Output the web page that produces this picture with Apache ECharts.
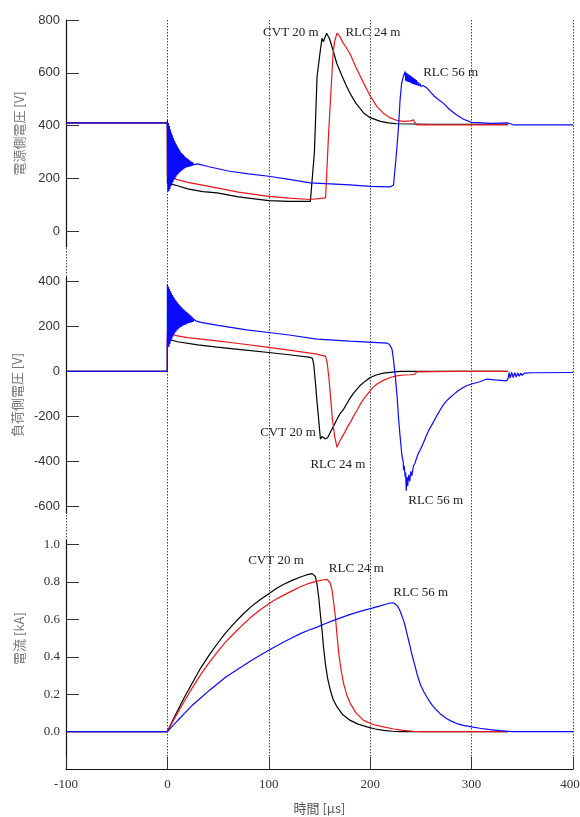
<!DOCTYPE html>
<html><head><meta charset="utf-8">
<script src="https://cdn.jsdelivr.net/npm/echarts@6/dist/echarts.min.js"></script>
<style>html,body{margin:0;padding:0;background:#fff}#c{width:580px;height:817px}</style>
</head><body><div id="c"></div>
<script>
// ---------- tick labels ----------
const xTicks = [-100, 0, 100, 200, 300, 400];
const srcTicks = [0, 200, 400, 600, 800];
const loadTicks = [-600, -400, -200, 0, 200, 400];
const curTicks = [0, 0.2, 0.4, 0.6, 0.8, 1.0];
const seriesNames = ['CVT 20 m', 'RLC 24 m', 'RLC 56 m'];

// ---------- 電源側電圧 [V] ----------
const srcCvtT = [-100, -0.1, 0, 2, 10, 20, 35, 49, 70, 100, 120, 141, 142.7, 145, 147.6, 150.9, 152.5, 154, 155.5, 157, 160, 163, 167, 172, 176, 180, 186, 193.5, 200, 210, 218, 226, 260, 300, 336];
const srcCvtV = [410, 410, 182, 180, 172, 160, 150, 145, 130, 116, 113, 113, 113, 300, 586, 687, 731, 718, 735, 750, 728, 690, 636, 590, 555, 523, 484, 448, 430, 416, 410, 407, 405, 405, 405];
const srcR24T = [-100, -0.1, 0, 1, 2, 3, 4, 6, 10, 20, 49, 70, 100, 120, 141, 156, 159, 163.4, 165, 167.3, 170, 173, 176.5, 180.4, 186, 193.5, 200, 206.7, 213, 220, 226, 233, 240, 242.7, 244, 246, 280, 336];
const srcR24V = [410, 410, 210, 195, 212, 198, 208, 202, 195, 185, 164, 148, 132, 125, 120, 126, 372, 674, 720, 750, 738, 715, 695, 670, 620, 561, 512, 472, 447, 429, 420, 416, 418, 422, 410, 403, 403, 403];
const srcR56T = [-100, -0.1,
  0, 0.5, 1, 1.5, 2, 2.5, 3, 3.5, 4, 4.5, 5, 5.5, 6, 6.5, 7, 7.5, 8, 8.5, 9, 9.5, 10, 10.5, 11, 11.5, 12, 12.5, 13, 13.5,
  14, 14.5, 15, 15.5, 16, 16.5, 17, 17.5, 18, 18.5, 19, 19.5, 20, 20.5, 21, 21.5, 22, 22.5, 23, 23.5, 24, 24.5, 25, 25.5, 26,
  30, 40, 60, 80, 100, 120, 141, 180, 200, 220, 223, 226, 228, 229.5, 231, 233,
  234.5, 235, 235.5, 236, 236.5, 237, 237.5, 238, 238.5, 239, 239.5, 240, 240.5, 241, 241.5, 242, 242.5, 243, 243.5, 244, 244.5, 245, 245.5, 246, 247, 248, 249, 250, 252,
  256, 259.5, 263, 267.5, 272, 278, 285, 292, 300, 320, 336, 337, 341, 400];
const srcR56V = [410, 410,
  422, 150, 410, 151, 398, 160, 385, 170, 374, 178, 363, 186, 353, 194, 343, 200, 335, 206, 328, 212, 321, 216, 314, 220, 307, 224, 301, 228,
  296, 231, 292, 234, 288, 237, 284, 239, 280, 241, 277, 242, 274, 243, 271, 244, 268, 245, 265, 246, 263, 248, 261, 251, 258,
  255, 245, 228, 217, 208, 196, 183, 175, 170, 168, 175, 300, 400, 500, 560, 590,
  605, 570, 600, 568, 598, 566, 594, 565, 592, 563, 590, 562, 587, 560, 584, 558, 581, 557, 578, 556, 575, 554, 572, 552, 566, 550, 560, 548, 552,
  542, 527, 512, 498, 485, 462, 441, 424, 412, 408, 410, 404, 403, 403];

// ---------- 負荷側電圧 [V] ----------
const ldCvtT = [-100, -0.1, 0, 2, 10, 30, 49, 70, 100, 120, 141, 143, 144.3, 146, 147.6, 149.5, 150.9, 152.5, 154, 155.5, 156.8, 158, 160.7, 164, 167, 170, 173.8, 177, 180, 183.5, 187, 190, 193.5, 197, 200, 206, 213, 222, 230, 336];
const ldCvtV = [0, 0, 144, 142, 132, 118, 108, 98, 84, 74, 62, 58, 32, -50, -138, -230, -301, -290, -293, -300, -308, -295, -271, -243, -215, -190, -168, -143, -120, -98, -79, -63, -50, -37, -27, -16, -8, -3, 0, 0];
const ldR24T = [-100, -0.1, 0, 1, 2, 3, 5, 10, 20, 49, 70, 100, 120, 147.6, 156, 157.5, 159.4, 161, 162.7, 165, 167.3, 170, 172.5, 175, 177.5, 180.4, 183.5, 187, 190, 193.5, 197, 200, 203, 206.7, 213, 219.8, 226, 232.9, 240, 244, 245, 246, 280, 336];
const ldR24V = [0, 0, 170, 155, 168, 158, 164, 158, 150, 136, 124, 107, 95, 77, 67, 40, -34, -120, -212, -290, -338, -310, -290, -270, -248, -227, -200, -173, -148, -123, -103, -86, -70, -56, -40, -27, -20, -16, -15, -12, -4, -2, 0, 0];
const ldR56T = [-100, -0.1,
  0, 0.5, 1, 1.5, 2, 2.5, 3, 3.5, 4, 4.5, 5, 5.5, 6, 6.5, 7, 7.5, 8, 8.5, 9, 9.5, 10, 10.5, 11, 11.5, 12, 12.5, 13, 13.5,
  14, 14.5, 15, 15.5, 16, 16.5, 17, 17.5, 18, 18.5, 19, 19.5, 20, 20.5, 21, 21.5, 22, 22.5, 23, 23.5, 24, 24.5, 25, 25.5, 26,
  28, 33, 50, 78, 100, 120, 147.6, 180, 216.5, 219, 221.5, 223, 224.7, 226.5, 228, 229.5, 231.3, 232.5, 233, 233.5, 234.5, 235, 235.5, 236.3, 237, 238, 239, 240, 241, 242.7, 244,
  247, 250, 252.6, 255, 258, 262, 265.7, 269, 272, 275, 278.8, 283, 287, 291, 295, 300, 308, 315, 323, 334.6, 336, 337, 338, 339.5, 341, 342.5, 344, 345.5, 347, 348.5, 350, 352, 360, 400];
const ldR56V = [0, 0,
  388, 108, 378, 110, 368, 122, 358, 134, 349, 145, 340, 155, 332, 165, 325, 172, 318, 178, 312, 183, 306, 188, 300, 192, 295, 195, 290, 198,
  285, 201, 280, 204, 276, 206, 272, 208, 268, 210, 264, 212, 260, 214, 256, 215, 252, 217, 248, 218, 244, 220, 240, 221, 232,
  225, 218, 205, 185, 173, 162, 144, 135, 126, 120, 99, 50, -20, -110, -212, -290, -375, -400, -440, -420, -470, -450, -531, -470, -510, -460, -490, -445, -465, -420, -410,
  -370, -343, -316, -290, -260, -228, -197, -172, -150, -132, -116, -100, -85, -74, -64, -56, -46, -34, -38, -42, -30, -5, -30, -5, -28, -6, -25, -7, -22, -8, -18, -8, -6, -5];

// ---------- 電流 [kA] ----------
const curCvtT = [-100, 0, 4, 8, 12, 16.4, 24, 32.8, 41, 49.2, 57, 65.6, 74, 82, 91, 100, 107, 114.8, 123, 131.2, 137, 142.7, 144.5, 145.9, 147.5, 149.2, 150.8, 152.5, 154, 155.8, 158, 160.7, 163.5, 167.3, 173, 180.4, 188, 196.9, 205, 213.2, 222, 230, 336];
const curCvtI = [0, 0, 0.046, 0.09, 0.133, 0.18, 0.255, 0.34, 0.408, 0.47, 0.526, 0.578, 0.625, 0.666, 0.704, 0.738, 0.764, 0.788, 0.809, 0.827, 0.838, 0.845, 0.842, 0.83, 0.79, 0.72, 0.63, 0.542, 0.45, 0.364, 0.285, 0.221, 0.172, 0.132, 0.09, 0.06, 0.04, 0.025, 0.014, 0.007, 0.002, 0, 0];
const curR24T = [-100, 0, 4, 8, 12, 16.4, 24, 32.8, 41, 49.2, 57, 65.6, 74, 82, 91, 100, 107, 114.8, 123, 131.2, 139, 147.6, 153, 157.5, 159, 160.5, 162.4, 164, 165.7, 167.3, 169, 171.3, 173.8, 177, 180.4, 186, 193.5, 203, 213.2, 223, 232.9, 242, 250, 336];
const curR24I = [0, 0, 0.041, 0.08, 0.118, 0.16, 0.23, 0.305, 0.368, 0.425, 0.477, 0.525, 0.57, 0.61, 0.649, 0.684, 0.708, 0.73, 0.753, 0.775, 0.792, 0.805, 0.811, 0.814, 0.81, 0.795, 0.756, 0.69, 0.613, 0.515, 0.417, 0.33, 0.257, 0.195, 0.15, 0.1, 0.06, 0.038, 0.025, 0.014, 0.007, 0.002, 0, 0];
const curR56T = [-100, 0, 4, 8, 12, 16.4, 24, 32.8, 41, 49.2, 57, 65.6, 74, 82, 91, 100, 107, 114.8, 123, 131.2, 139, 147.6, 156, 164, 172, 180.4, 190, 200.1, 210, 217, 219.8, 222, 224, 226.4, 228, 229.5, 231, 232.9, 234.5, 236, 237.8, 239.5, 241, 242.8, 244.5, 246.1, 248, 250, 253, 255.9, 259, 262, 265.5, 269, 272.5, 276, 280, 285.4, 292, 300, 308, 318, 328, 340, 400];
const curR56I = [0, 0, 0.024, 0.047, 0.07, 0.095, 0.138, 0.18, 0.219, 0.255, 0.289, 0.32, 0.35, 0.378, 0.407, 0.435, 0.457, 0.479, 0.502, 0.524, 0.542, 0.559, 0.578, 0.595, 0.611, 0.627, 0.643, 0.658, 0.673, 0.684, 0.688, 0.689, 0.685, 0.675, 0.662, 0.645, 0.622, 0.595, 0.565, 0.53, 0.49, 0.452, 0.415, 0.38, 0.345, 0.31, 0.276, 0.245, 0.212, 0.185, 0.158, 0.135, 0.114, 0.096, 0.081, 0.068, 0.056, 0.043, 0.033, 0.025, 0.018, 0.011, 0.005, 0, 0];

// ---------- annotation anchors (data coords) ----------
const srcLabelAt = [[121.8, 751], [202.6, 751], [279.3, 600]];
const ldLabelAt = [[118.9, -274], [168.1, -416], [264.6, -576]];
const curLabelAt = [[107.1, 0.916], [186.3, 0.873], [249.8, 0.745]];

const COLORS = ['#000000', '#e8161b', '#0a0aff'];
const SERIF = 'Liberation Serif';
const SANS = 'Liberation Sans';
const CJK = 'Noto Sans CJK JP';

function zip(a, b) { return a.map((t, i) => [t, b[i]]); }
function mk(idx, ts, vs, axis, at) {
  return {
    type: 'line', name: seriesNames[idx], xAxisIndex: axis, yAxisIndex: axis,
    data: zip(ts, vs), showSymbol: false, symbol: 'none', animation: false,
    lineStyle: { color: COLORS[idx], width: 1.2 }, z: 3 + idx,
    markPoint: {
      symbol: 'circle', symbolSize: 0, silent: true, animation: false,
      label: { show: true, position: 'inside', formatter: seriesNames[idx], fontFamily: SERIF, fontSize: 13, color: '#222' },
      data: [{ coord: at }]
    }
  };
}

const L = 66, W = 507;
const grids = [
  { left: L, width: W, top: 20, height: 227, outerBoundsMode: 'none', containLabel: false },
  { left: L, width: W, top: 277, height: 236, outerBoundsMode: 'none', containLabel: false },
  { left: L, width: W, top: 540, height: 229, outerBoundsMode: 'none', containLabel: false },
  { left: L, width: W, top: 20, height: 749, outerBoundsMode: 'none', containLabel: false }
];
function xa(i, show) {
  return {
    type: 'value', gridIndex: i, min: -100, max: 400, interval: 100, show: show,
    axisLine: { show: i === 2, onZero: false, lineStyle: { color: '#111', width: 1.2 } },
    axisTick: { show: i === 2, inside: true, length: 12, lineStyle: { color: '#333' } },
    axisLabel: {
      show: i === 2, fontFamily: SERIF, fontSize: 13, color: '#333', margin: 9,
      formatter: v => v === xTicks[xTicks.length - 1] ? '{r|' + v + '}' : String(v),
      rich: { r: { fontFamily: SERIF, fontSize: 13, color: '#333', padding: [0, 6, 0, 0] } }
    },
    splitLine: { show: i === 3, lineStyle: { type: [1.5, 1.5], color: '#444', width: 1 } },
    name: i === 2 ? '時間 [μs]' : '', nameLocation: 'middle', nameGap: 33,
    nameTextStyle: { fontFamily: CJK, fontSize: 13, color: '#555' }
  };
}
function ya(i, min, max, ticks, name, font, fmt, pad) {
  return {
    type: 'value', gridIndex: i, min: min, max: max,
    axisLine: { show: true, onZero: false, lineStyle: { color: '#111', width: 1.2 } },
    axisTick: { show: true, inside: true, length: 13, customValues: ticks, lineStyle: { color: '#333' } },
    axisLabel: { show: true, customValues: ticks, fontFamily: font, fontSize: 13, color: '#333', margin: 6, formatter: fmt },
    splitLine: { show: false },
    name: name, nameLocation: 'middle', nameGap: 40, nameRotate: 90,
    nameTextStyle: { fontFamily: CJK, fontSize: 13, color: '#777', padding: pad }
  };
}

const option = {
  backgroundColor: '#fff', animation: false,
  grid: grids,
  xAxis: [xa(0, false), xa(1, false), xa(2, true), xa(3, true)],
  yAxis: [
    ya(0, -60, 800, srcTicks, '電源側電圧 [V]', SANS, v => String(v), [0, 0, 0, 0]),
    ya(1, -630, 420, loadTicks, '負荷側電圧 [V]', SANS, v => String(v), [0, 0, 0, 0]),
    ya(2, -0.2, 1.025, curTicks, '電流 [kA]', SERIF, v => v.toFixed(1), [0, 0, 0, 32]),
    { type: 'value', gridIndex: 3, min: 0, max: 1, show: false }
  ],
  series: [
    mk(0, srcCvtT, srcCvtV, 0, srcLabelAt[0]),
    mk(1, srcR24T, srcR24V, 0, srcLabelAt[1]),
    mk(2, srcR56T, srcR56V, 0, srcLabelAt[2]),
    mk(0, ldCvtT, ldCvtV, 1, ldLabelAt[0]),
    mk(1, ldR24T, ldR24V, 1, ldLabelAt[1]),
    mk(2, ldR56T, ldR56V, 1, ldLabelAt[2]),
    mk(0, curCvtT, curCvtI, 2, curLabelAt[0]),
    mk(1, curR24T, curR24I, 2, curLabelAt[1]),
    mk(2, curR56T, curR56I, 2, curLabelAt[2])
  ]
};
const chart = echarts.init(document.getElementById('c'), null, { renderer: 'canvas' });
chart.setOption(option);
</script>
</body></html>
